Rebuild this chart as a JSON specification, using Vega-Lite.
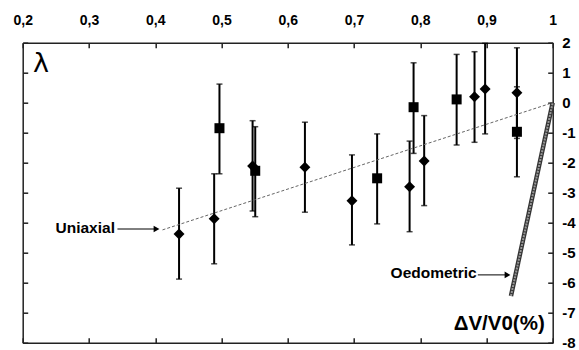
{
  "$schema": "https://vega.github.io/schema/vega-lite/v6.json",
  "width": 530,
  "height": 300,
  "autosize": {"type": "none"},
  "padding": {"left": 22.7, "top": 42.7, "right": 26.3, "bottom": 7.3},
  "background": "white",
  "config": {"view": {"stroke": null}},
  "datasets": {
    "pts": [
      {"x": 0.436, "y": -4.38, "lo": -5.88, "hi": -2.85, "type": "diamond"},
      {"x": 0.489, "y": -3.87, "lo": -5.37, "hi": -2.37, "type": "diamond"},
      {"x": 0.497, "y": -0.85, "lo": -2.37, "hi": 0.62, "type": "square"},
      {"x": 0.547, "y": -2.11, "lo": -3.61, "hi": -0.60, "type": "diamond"},
      {"x": 0.551, "y": -2.27, "lo": -3.80, "hi": -0.80, "type": "square"},
      {"x": 0.626, "y": -2.15, "lo": -3.65, "hi": -0.65, "type": "diamond"},
      {"x": 0.697, "y": -3.27, "lo": -4.74, "hi": -1.74, "type": "diamond"},
      {"x": 0.735, "y": -2.52, "lo": -4.04, "hi": -1.04, "type": "square"},
      {"x": 0.784, "y": -2.80, "lo": -4.30, "hi": -1.28, "type": "diamond"},
      {"x": 0.790, "y": -0.15, "lo": -1.69, "hi": 1.33, "type": "square"},
      {"x": 0.806, "y": -1.94, "lo": -3.43, "hi": -0.43, "type": "diamond"},
      {"x": 0.855, "y": 0.11, "lo": -1.41, "hi": 1.61, "type": "square"},
      {"x": 0.882, "y": 0.20, "lo": -1.32, "hi": 1.70, "type": "diamond"},
      {"x": 0.898, "y": 0.46, "lo": -1.04, "hi": 1.98, "type": "diamond"},
      {"x": 0.946, "y": 0.33, "lo": -1.19, "hi": 1.83, "type": "diamond"},
      {"x": 0.946, "y": -0.97, "lo": -2.47, "hi": 0.53, "type": "square"}
    ],
    "uni": [
      {"x": 0.411, "y": -4.24},
      {"x": 1, "y": 0}
    ],
    "oed": [
      {"x": 1, "y": 0},
      {"x": 0.937, "y": -6.44}
    ],
    "arrows": [
      {"id": "a1", "x": 0.343, "y": -4.21},
      {"id": "a1", "x": 0.400, "y": -4.21},
      {"id": "a2", "x": 0.887, "y": -5.74},
      {"id": "a2", "x": 0.930, "y": -5.74}
    ],
    "heads": [
      {"x": 0.402, "y": -4.21},
      {"x": 0.9318, "y": -5.74}
    ],
    "texts": [
      {"kind": "ann", "x": 0.3393, "y": -4.18, "label": "Uniaxial"},
      {"kind": "ann", "x": 0.8853, "y": -5.69, "label": "Oedometric"},
      {"kind": "lam", "x": 0.2155, "y": 1.02, "label": "λ"},
      {"kind": "dv", "x": 0.988, "y": -7.58, "label": "ΔV/V0(%)"}
    ]
  },
  "resolve": {"axis": {"x": "independent", "y": "independent"}},
  "layer": [
    {
      "data": {"name": "pts"},
      "mark": {"type": "rule", "color": "black", "strokeWidth": 2},
      "encoding": {
        "x": {"field": "x", "type": "quantitative",
          "scale": {"domain": [0.2, 1], "nice": false, "zero": false},
          "axis": {"orient": "bottom", "values": [0.2, 0.3, 0.4, 0.5, 0.6, 0.7, 0.8, 0.9, 1], "labels": false, "tickSize": -5, "tickWidth": 1.5, "tickColor": "#222", "domainColor": "#222", "domainWidth": 1.5, "grid": false, "title": null}},
        "y": {"field": "lo", "type": "quantitative",
          "scale": {"domain": [-8, 2], "nice": false, "zero": false},
          "axis": {"orient": "left", "values": [-8, -7, -6, -5, -4, -3, -2, -1, 0, 1, 2], "labels": false, "tickSize": -5, "tickWidth": 1.5, "tickColor": "#222", "domainColor": "#222", "domainWidth": 1.5, "grid": false, "title": null}},
        "y2": {"field": "hi"}
      }
    },
    {
      "data": {"name": "pts"},
      "mark": {"type": "tick", "orient": "horizontal", "color": "black", "size": 6, "thickness": 1.5},
      "encoding": {
        "x": {"field": "x", "type": "quantitative", "scale": {"domain": [0.2, 1], "nice": false, "zero": false}, "axis": null},
        "y": {"field": "lo", "type": "quantitative", "scale": {"domain": [-8, 2], "nice": false, "zero": false}, "axis": null}
      }
    },
    {
      "data": {"name": "pts"},
      "mark": {"type": "tick", "orient": "horizontal", "color": "black", "size": 6, "thickness": 1.5},
      "encoding": {
        "x": {"field": "x", "type": "quantitative",
          "scale": {"domain": [0.2, 1], "nice": false, "zero": false},
          "axis": {"orient": "top", "values": [0.2, 0.3, 0.4, 0.5, 0.6, 0.7, 0.8, 0.9, 1], "labelExpr": "replace(format(datum.value, '~g'), '.', ',')", "labelFont": "Liberation Sans", "labelFontWeight": "bold", "labelFontSize": 14, "labelColor": "black", "labelPadding": 20, "labelFlush": false, "labelOverlap": false, "tickSize": -5, "tickWidth": 1.5, "tickColor": "#222", "domainColor": "#222", "domainWidth": 1.5, "grid": false, "title": null,
            "encode": {"labels": {"update": {"dx": {"signal": "-0.7 - 67.5 * (datum.value - 0.2)"}}}}}},
        "y": {"field": "hi", "type": "quantitative",
          "scale": {"domain": [-8, 2], "nice": false, "zero": false},
          "axis": {"orient": "right", "values": [-8, -7, -6, -5, -4, -3, -2, -1, 0, 1, 2], "labelExpr": "'' + datum.value", "labelFont": "Liberation Sans", "labelFontWeight": "bold", "labelFontSize": 15, "labelColor": "black", "labelPadding": 14, "labelFlush": false, "labelOverlap": false, "tickSize": -5, "tickWidth": 1.5, "tickColor": "#222", "domainColor": "#222", "domainWidth": 1.5, "grid": false, "title": null}}
      }
    },
    {
      "data": {"name": "uni"},
      "mark": {"type": "line", "color": "#666", "strokeWidth": 1, "strokeDash": [3, 2]},
      "encoding": {
        "x": {"field": "x", "type": "quantitative", "scale": {"domain": [0.2, 1], "nice": false, "zero": false}, "axis": null},
        "y": {"field": "y", "type": "quantitative", "scale": {"domain": [-8, 2], "nice": false, "zero": false}, "axis": null}
      }
    },
    {
      "data": {"name": "oed"},
      "mark": {"type": "line", "color": "#333", "strokeWidth": 4.5},
      "encoding": {
        "x": {"field": "x", "type": "quantitative", "scale": {"domain": [0.2, 1], "nice": false, "zero": false}, "axis": null},
        "y": {"field": "y", "type": "quantitative", "scale": {"domain": [-8, 2], "nice": false, "zero": false}, "axis": null}
      }
    },
    {
      "data": {"name": "oed"},
      "mark": {"type": "line", "color": "#999", "strokeWidth": 2, "strokeDash": [2, 1]},
      "encoding": {
        "x": {"field": "x", "type": "quantitative", "scale": {"domain": [0.2, 1], "nice": false, "zero": false}, "axis": null},
        "y": {"field": "y", "type": "quantitative", "scale": {"domain": [-8, 2], "nice": false, "zero": false}, "axis": null}
      }
    },
    {
      "data": {"name": "pts"},
      "mark": {"type": "point", "filled": true, "color": "black", "opacity": 1},
      "encoding": {
        "x": {"field": "x", "type": "quantitative", "scale": {"domain": [0.2, 1], "nice": false, "zero": false}, "axis": null},
        "y": {"field": "y", "type": "quantitative", "scale": {"domain": [-8, 2], "nice": false, "zero": false}, "axis": null},
        "shape": {"field": "type", "type": "nominal", "scale": {"domain": ["diamond", "square"], "range": ["diamond", "square"]}, "legend": null},
        "size": {"field": "type", "type": "nominal", "scale": {"domain": ["diamond", "square"], "range": [120, 100]}, "legend": null}
      }
    },
    {
      "data": {"name": "arrows"},
      "mark": {"type": "line", "color": "black", "strokeWidth": 1},
      "encoding": {
        "x": {"field": "x", "type": "quantitative", "scale": {"domain": [0.2, 1], "nice": false, "zero": false}, "axis": null},
        "y": {"field": "y", "type": "quantitative", "scale": {"domain": [-8, 2], "nice": false, "zero": false}, "axis": null},
        "detail": {"field": "id"}
      }
    },
    {
      "data": {"name": "heads"},
      "mark": {"type": "point", "shape": "triangle-right", "filled": true, "color": "black", "opacity": 1, "size": 45},
      "encoding": {
        "x": {"field": "x", "type": "quantitative", "scale": {"domain": [0.2, 1], "nice": false, "zero": false}, "axis": null},
        "y": {"field": "y", "type": "quantitative", "scale": {"domain": [-8, 2], "nice": false, "zero": false}, "axis": null}
      }
    },
    {
      "data": {"name": "texts"},
      "transform": [{"filter": "datum.kind == 'ann'"}],
      "mark": {"type": "text", "align": "right", "baseline": "middle", "font": "Liberation Sans", "fontWeight": "bold", "fontSize": 15.5, "color": "black"},
      "encoding": {
        "x": {"field": "x", "type": "quantitative", "scale": {"domain": [0.2, 1], "nice": false, "zero": false}, "axis": null},
        "y": {"field": "y", "type": "quantitative", "scale": {"domain": [-8, 2], "nice": false, "zero": false}, "axis": null},
        "text": {"field": "label"}
      }
    },
    {
      "data": {"name": "texts"},
      "transform": [{"filter": "datum.kind == 'lam'"}],
      "mark": {"type": "text", "align": "left", "baseline": "alphabetic", "font": "DejaVu Sans", "fontSize": 27, "color": "black"},
      "encoding": {
        "x": {"field": "x", "type": "quantitative", "scale": {"domain": [0.2, 1], "nice": false, "zero": false}, "axis": null},
        "y": {"field": "y", "type": "quantitative", "scale": {"domain": [-8, 2], "nice": false, "zero": false}, "axis": null},
        "text": {"field": "label"}
      }
    },
    {
      "data": {"name": "texts"},
      "transform": [{"filter": "datum.kind == 'dv'"}],
      "mark": {"type": "text", "align": "right", "baseline": "alphabetic", "font": "Liberation Sans", "fontWeight": "bold", "fontSize": 20.5, "color": "black"},
      "encoding": {
        "x": {"field": "x", "type": "quantitative", "scale": {"domain": [0.2, 1], "nice": false, "zero": false}, "axis": null},
        "y": {"field": "y", "type": "quantitative", "scale": {"domain": [-8, 2], "nice": false, "zero": false}, "axis": null},
        "text": {"field": "label"}
      }
    }
  ]
}
